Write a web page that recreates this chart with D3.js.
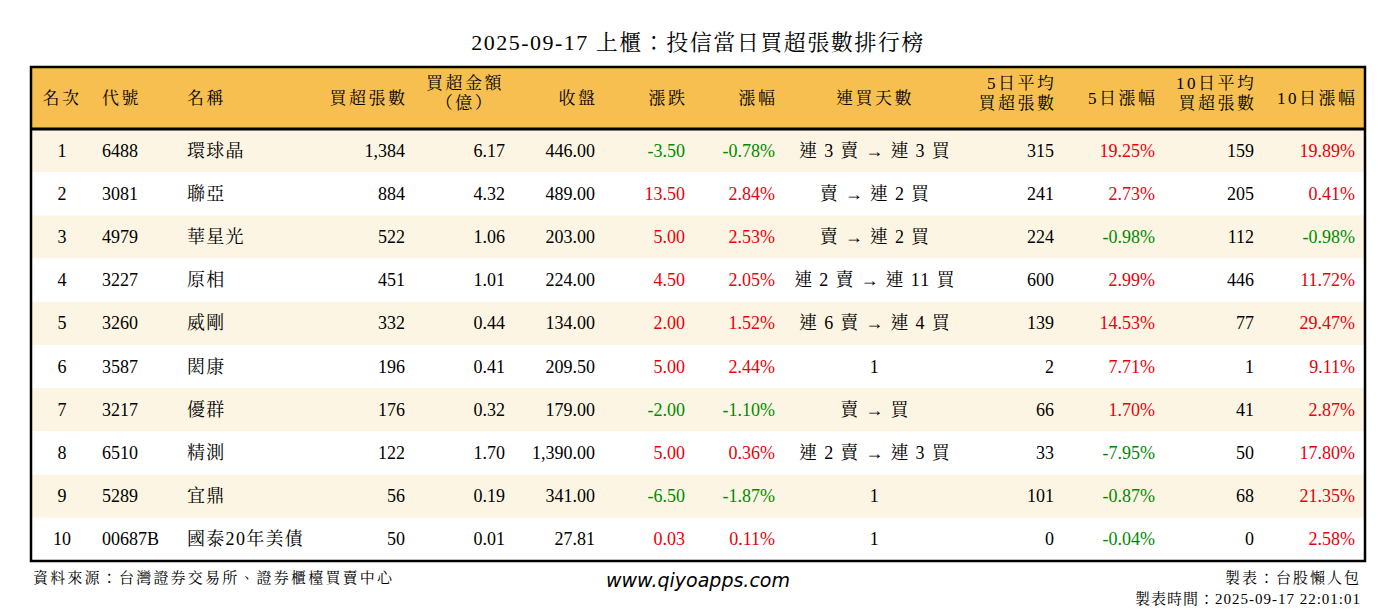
<!DOCTYPE html>
<html><head><meta charset="utf-8">
<script src="https://cdn.jsdelivr.net/npm/d3@7"></script>
<style>body{margin:0;background:#fff}</style>
</head><body><svg id="c" width="1396" height="612"></svg>
<script>
const ranks=[1,2,3,4,5,6,7,8,9,10];
const codes=["6488","3081","4979","3227","3260","3587","3217","6510","5289","00687B"];
const names=["環球晶","聯亞","華星光","原相","威剛","閎康","優群","精測","宜鼎","國泰20年美債"];
const netLots=[1384,884,522,451,332,196,176,122,56,50];
const netAmt=[6.17,4.32,1.06,1.01,0.44,0.41,0.32,1.70,0.19,0.01];
const closes=[446.00,489.00,203.00,224.00,134.00,209.50,179.00,1390.00,341.00,27.81];
const changes=[-3.50,13.50,5.00,4.50,2.00,5.00,-2.00,5.00,-6.50,0.03];
const pcts=[-0.78,2.84,2.53,2.05,1.52,2.44,-1.10,0.36,-1.87,0.11];
const streaks=["連 3 賣 → 連 3 買","賣 → 連 2 買","賣 → 連 2 買","連 2 賣 → 連 11 買","連 6 賣 → 連 4 買","1","賣 → 買","連 2 賣 → 連 3 買","1","1"];
const avg5=[315,241,224,600,139,2,66,33,101,0];
const pct5=[19.25,2.73,-0.98,2.99,14.53,7.71,1.70,-7.95,-0.87,-0.04];
const avg10=[159,205,112,446,77,1,41,50,68,0];
const pct10=[19.89,0.41,-0.98,11.72,29.47,9.11,2.87,17.80,21.35,2.58];
const headers=["名次","代號","名稱","買超張數","買超金額\n（億）","收盤","漲跌","漲幅","連買天數","5日平均\n買超張數","5日漲幅","10日平均\n買超張數","10日漲幅"];

const svg=d3.select("#c");
const F="'Liberation Serif','Noto Serif CJK TC','Noto Sans CJK TC',serif";
const L=31,R=1365,T=67,HB=129,B=561;
const y=d3.scaleBand().domain(d3.range(10)).range([HB,B]);
const fix=s=>s.replace("−","-");
const fmt2=v=>fix(d3.format(",.2f")(v)), fmt0=d3.format(",");
const col=v=>v<0?"#008a00":"#e8000b";
const cols=[
 {x:62,a:"middle",h:"middle",v:i=>ranks[i]},
 {x:102,a:"start",h:"start",v:i=>codes[i]},
 {x:187,a:"start",h:"start",v:i=>names[i],ls:1.3},
 {x:405,a:"end",h:"end",v:i=>fmt0(netLots[i])},
 {x:505,a:"end",h:"middle",hx:465,v:i=>fmt2(netAmt[i])},
 {x:595,a:"end",h:"end",v:i=>fmt2(closes[i])},
 {x:685,a:"end",h:"end",v:i=>fmt2(changes[i]),c:i=>col(changes[i])},
 {x:775,a:"end",h:"end",v:i=>fmt2(pcts[i])+"%",c:i=>col(pcts[i])},
 {x:875,a:"middle",h:"middle",v:i=>streaks[i],ls:1.3},
 {x:1054,a:"end",h:"end",v:i=>fmt0(avg5[i])},
 {x:1155,a:"end",h:"end",v:i=>fmt2(pct5[i])+"%",c:i=>col(pct5[i])},
 {x:1254,a:"end",h:"end",v:i=>fmt0(avg10[i])},
 {x:1355,a:"end",h:"end",v:i=>fmt2(pct10[i])+"%",c:i=>col(pct10[i])}
];
svg.append("text").attr("x",698).attr("y",50).attr("text-anchor","middle").attr("font-family",F).attr("font-size",22).attr("letter-spacing",1.5).attr("fill","#000").text("2025-09-17 上櫃：投信當日買超張數排行榜");
svg.append("rect").attr("x",L).attr("y",T).attr("width",R-L).attr("height",HB-T).attr("fill","#f6bf4f");
svg.selectAll("rect.row").data(d3.range(10)).join("rect").attr("x",L).attr("y",i=>y(i)).attr("width",R-L).attr("height",y.bandwidth()).attr("fill",i=>i%2==0?"#fdf5e3":"#fff");
cols.forEach((c,k)=>{
  const lines=headers[k].split("\n");
  const t=svg.append("text").attr("font-family",F).attr("font-size",17).attr("letter-spacing",2.5).attr("text-anchor",c.h).attr("fill","#000");
  lines.forEach((s,j)=>t.append("tspan").attr("x",(c.hx||c.x)+(c.h=="end"?2.5:0)).attr("y",lines.length==1?104:(89+j*20)).text(s));
  svg.selectAll(null).data(d3.range(10)).join("text").attr("x",c.x).attr("y",i=>y(i)+y.bandwidth()/2+6).attr("text-anchor",c.a).attr("font-family",F).attr("font-size",18).attr("letter-spacing",c.ls||0).attr("fill",i=>c.c?c.c(i):"#000").text(c.v);
});
svg.append("rect").attr("x",L).attr("y",T).attr("width",R-L).attr("height",B-T).attr("fill","none").attr("stroke","#000").attr("stroke-width",2.5);
svg.append("line").attr("x1",L).attr("x2",R).attr("y1",HB).attr("y2",HB).attr("stroke","#000").attr("stroke-width",3);
svg.append("text").attr("x",33).attr("y",583).attr("font-family",F).attr("font-size",15).attr("letter-spacing",2.2).text("資料來源：台灣證券交易所、證券櫃檯買賣中心");
svg.append("text").attr("x",698).attr("y",587).attr("text-anchor","middle").attr("font-family","'DejaVu Sans',sans-serif").attr("font-style","italic").attr("font-size",19).text("www.qiyoapps.com");
svg.append("text").attr("x",1361).attr("y",583).attr("text-anchor","end").attr("font-family",F).attr("font-size",15).attr("letter-spacing",2).text("製表：台股懶人包");
svg.append("text").attr("x",1361).attr("y",604).attr("text-anchor","end").attr("font-family",F).attr("font-size",15).attr("letter-spacing",1).text("製表時間：2025-09-17 22:01:01");
</script></body></html>
